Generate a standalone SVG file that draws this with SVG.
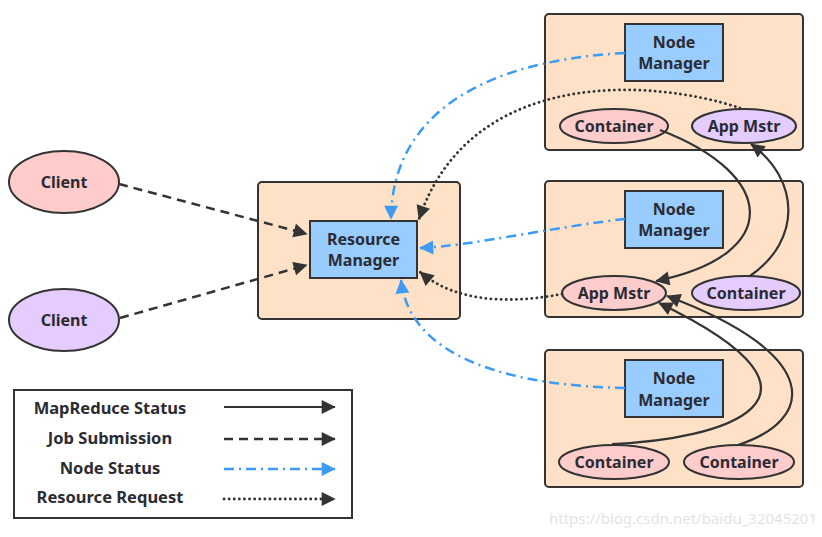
<svg xmlns="http://www.w3.org/2000/svg" width="822" height="537" viewBox="0 0 822 537">
<defs>
<style>
.box{fill:#FFE1C7;stroke:#333;stroke-width:2}
.blue{fill:#99CCFF;stroke:#333;stroke-width:2}
.pink{fill:#FFCCCC;stroke:#333;stroke-width:2}
.purp{fill:#E5CCFF;stroke:#333;stroke-width:2}
text{font-family:"Noto Sans","Liberation Sans",sans-serif;font-weight:bold;font-size:16px;fill:#2b2b33;text-anchor:middle}
.lg{font-size:16.5px}
.mr{fill:none;stroke:#333;stroke-width:2.2;marker-end:url(#ab)}
.js{fill:none;stroke:#333;stroke-width:2.5;stroke-dasharray:9 6;marker-end:url(#ab)}
.ns{fill:none;stroke:#3D9BF5;stroke-width:2.5;stroke-dasharray:10 5 2 5;marker-end:url(#au)}
.rr{fill:none;stroke:#333;stroke-width:2.8;stroke-linecap:round;stroke-dasharray:0.1 5;marker-end:url(#ab)}
</style>
<marker id="ab" viewBox="0 0 10 10" refX="9" refY="5" markerWidth="7" markerHeight="7" markerUnits="userSpaceOnUse" orient="auto" style="overflow:visible">
<path d="M0,0 L10,5 L0,10 z" fill="#333" transform="scale(2)" transform-origin="10 5"/>
</marker>
<marker id="au" viewBox="0 0 10 10" refX="9" refY="5" markerWidth="7" markerHeight="7" markerUnits="userSpaceOnUse" orient="auto" style="overflow:visible">
<path d="M0,0 L10,5 L0,10 z" fill="#3D9BF5" transform="scale(2)" transform-origin="10 5"/>
</marker>
</defs>
<rect width="822" height="537" fill="#fff"/>

<g id="rm-box"><rect class="box" x="258" y="182" width="202" height="137" rx="4"/></g>
<g id="nm1-box"><rect class="box" x="545" y="14" width="258" height="136" rx="4"/></g>
<g id="nm2-box"><rect class="box" x="545" y="181" width="258" height="136" rx="4"/></g>
<g id="nm3-box"><rect class="box" x="545" y="350" width="258" height="137" rx="4"/></g>

<g id="resource-manager"><rect class="blue" x="310" y="221" width="107" height="57"/><text x="363.5" y="245">Resource</text><text x="363.5" y="266">Manager</text></g>
<g id="node-manager-1"><rect class="blue" x="625" y="24" width="98" height="57"/><text x="674" y="48">Node</text><text x="674" y="69">Manager</text></g>
<g id="node-manager-2"><rect class="blue" x="625" y="191" width="98" height="57"/><text x="674" y="215">Node</text><text x="674" y="236">Manager</text></g>
<g id="node-manager-3"><rect class="blue" x="625" y="360" width="98" height="57"/><text x="674" y="384">Node</text><text x="674" y="406">Manager</text></g>

<g id="client-1"><ellipse class="pink" cx="64" cy="182" rx="55" ry="31"/><text x="64" y="188">Client</text></g>
<g id="client-2"><ellipse class="purp" cx="64" cy="320" rx="55" ry="31"/><text x="64" y="326">Client</text></g>

<g id="container-1"><ellipse class="pink" cx="614" cy="126" rx="54" ry="17"/><text x="614" y="132">Container</text></g>
<g id="appmstr-1"><ellipse class="purp" cx="744" cy="126" rx="52" ry="17"/><text x="744" y="132">App Mstr</text></g>
<g id="appmstr-2"><ellipse class="pink" cx="614" cy="293" rx="52" ry="17"/><text x="614" y="299">App Mstr</text></g>
<g id="container-2"><ellipse class="purp" cx="746" cy="293" rx="54" ry="17"/><text x="746" y="299">Container</text></g>
<g id="container-3a"><ellipse class="pink" cx="614" cy="462" rx="55" ry="17"/><text x="614" y="468">Container</text></g>
<g id="container-3b"><ellipse class="pink" cx="739" cy="462" rx="55" ry="17"/><text x="739" y="468">Container</text></g>

<g id="connectors">
<path class="js" d="M119,184 L307,234"/>
<path class="js" d="M120,318 L307,265"/>
<path class="ns" d="M625,53 C490,60 392,110 391,219"/>
<path class="rr" d="M740,108 C650,78 470,68 419,219"/>
<path class="ns" d="M625,219 C560,226 470,246 420,248"/>
<path class="rr" d="M562,294 C520,302 460,306 420,272"/>
<path class="ns" d="M625,388 C520,386 410,362 401,280"/>
<path class="mr" d="M660,130 C778,175 783,255 656,281"/>
<path class="mr" d="M750,276 C802,240 800,180 751,144"/>
<path class="mr" d="M612,444 C720,440 860,400 659,303"/>
<path class="mr" d="M738,445 C815,420 825,355 667,296"/>
</g>

<g id="legend">
<rect x="14" y="390" width="338" height="128" fill="#fff" stroke="#333" stroke-width="2"/>
<text class="lg" x="110" y="414">MapReduce Status</text>
<text class="lg" x="110" y="444">Job Submission</text>
<text class="lg" x="110" y="474">Node Status</text>
<text class="lg" x="110" y="503">Resource Request</text>
<path class="mr" d="M224,407 L335,407"/>
<path class="js" d="M224,439 L335,439"/>
<path class="ns" d="M224,469 L335,469"/>
<path class="rr" d="M224,499 L335,499"/>
</g>
<text x="683" y="524" style="font-weight:normal;fill:#e4e4e4;font-size:15px">https://blog.csdn.net/baidu_32045201</text>
</svg>
